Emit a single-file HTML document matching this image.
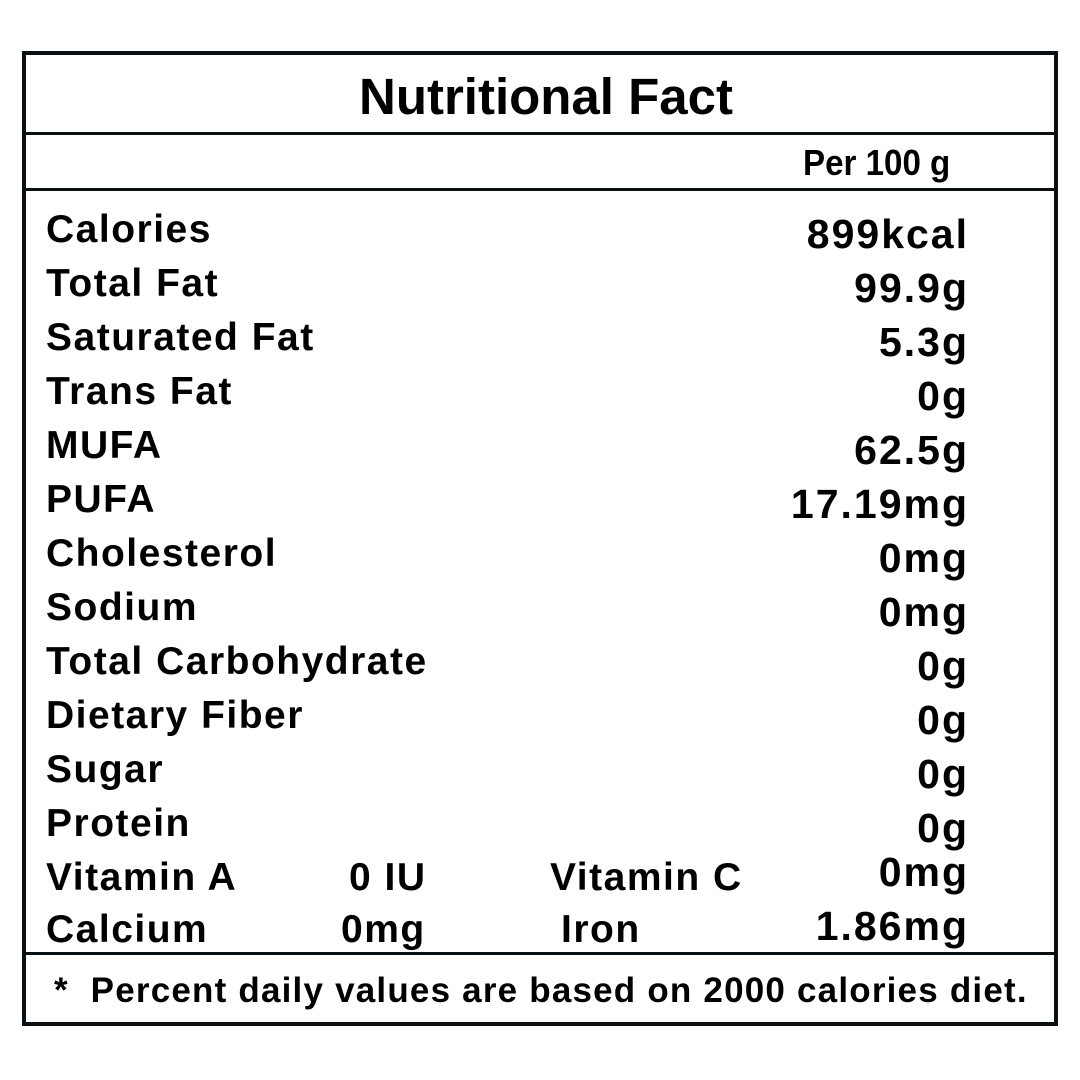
<!DOCTYPE html>
<html><head><meta charset="utf-8"><style>
html,body{margin:0;padding:0;background:#fff;}
body{width:1080px;height:1080px;position:relative;overflow:hidden;font-family:"Liberation Sans",sans-serif;font-weight:bold;color:#000;}
.b{position:absolute;background:#0a0f14;}
.t{position:absolute;line-height:1;white-space:nowrap;font-size:39px;letter-spacing:1.5px;}
.r{text-align:right;letter-spacing:2px;font-size:41px;}
</style></head><body>
<div class="b" style="left:22px;top:51px;width:1036px;height:4px"></div>
<div class="b" style="left:22px;top:1022px;width:1036px;height:4px"></div>
<div class="b" style="left:22px;top:51px;width:4px;height:975px"></div>
<div class="b" style="left:1054px;top:51px;width:4px;height:975px"></div>
<div class="b" style="left:22px;top:132px;width:1032px;height:3px"></div>
<div class="b" style="left:22px;top:188px;width:1032px;height:3px"></div>
<div class="b" style="left:22px;top:952px;width:1036px;height:3px"></div>

<div class="t" style="left:0;width:1092px;text-align:center;top:71px;font-size:51px;letter-spacing:0">Nutritional Fact</div>
<div class="t" style="left:803px;top:145px;font-size:36px;transform:scaleX(0.92);transform-origin:left;letter-spacing:0">Per 100 g</div>

<div class="t" style="left:46px;top:210px">Calories</div>
<div class="t" style="left:46px;top:264px">Total Fat</div>
<div class="t" style="left:46px;top:318px">Saturated Fat</div>
<div class="t" style="left:46px;top:372px">Trans Fat</div>
<div class="t" style="left:46px;top:426px">MUFA</div>
<div class="t" style="left:46px;top:480px">PUFA</div>
<div class="t" style="left:46px;top:534px">Cholesterol</div>
<div class="t" style="left:46px;top:588px">Sodium</div>
<div class="t" style="left:46px;top:642px">Total Carbohydrate</div>
<div class="t" style="left:46px;top:696px">Dietary Fiber</div>
<div class="t" style="left:46px;top:750px">Sugar</div>
<div class="t" style="left:46px;top:804px">Protein</div>
<div class="t" style="left:46px;top:858px">Vitamin A</div>
<div class="t" style="left:46px;top:910px">Calcium</div>
<div class="t" style="left:349px;top:858px">0 IU</div>
<div class="t" style="left:341px;top:910px">0mg</div>
<div class="t" style="left:550px;top:858px">Vitamin C</div>
<div class="t" style="left:561px;top:910px">Iron</div>

<div class="t r" style="right:111px;top:214px">899kcal</div>
<div class="t r" style="right:111px;top:268px">99.9g</div>
<div class="t r" style="right:111px;top:322px">5.3g</div>
<div class="t r" style="right:111px;top:376px">0g</div>
<div class="t r" style="right:111px;top:430px">62.5g</div>
<div class="t r" style="right:111px;top:484px">17.19mg</div>
<div class="t r" style="right:111px;top:538px">0mg</div>
<div class="t r" style="right:111px;top:592px">0mg</div>
<div class="t r" style="right:111px;top:646px">0g</div>
<div class="t r" style="right:111px;top:700px">0g</div>
<div class="t r" style="right:111px;top:754px">0g</div>
<div class="t r" style="right:111px;top:808px">0g</div>
<div class="t r" style="right:111px;top:852px">0mg</div>
<div class="t r" style="right:111px;top:906px">1.86mg</div>

<div class="t" style="left:54px;top:973px;font-size:35px;letter-spacing:1.2px">*&nbsp; Percent daily values are based on 2000 calories diet.</div>
</body></html>
